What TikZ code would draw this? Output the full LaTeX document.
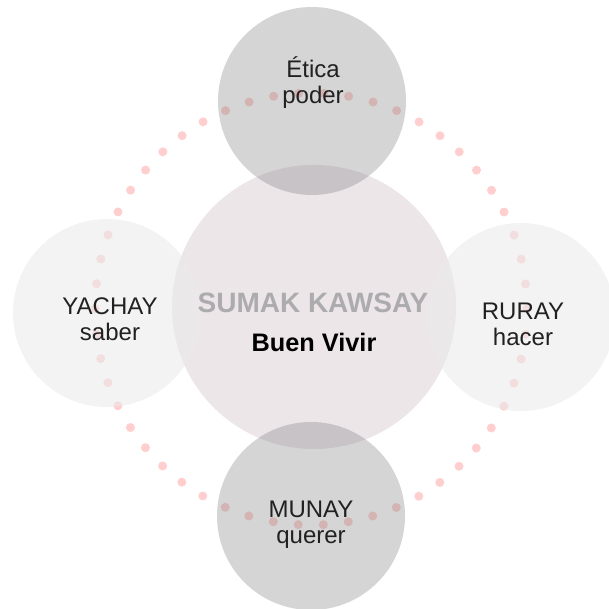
\documentclass[tikz,border=0pt]{standalone}
\usepackage{fontspec}
\setmainfont{Liberation Sans}
\definecolor{dotpink}{RGB}{255,206,206}
\definecolor{ringgray}{RGB}{126,126,126}
\definecolor{sidegray}{RGB}{234,234,234}
\definecolor{coremauve}{RGB}{225,213,219}
\definecolor{kawsaygray}{RGB}{172,172,175}
\tikzset{
  ring/.style={circle, fill=ringgray, fill opacity=0.33, minimum size=188pt, inner sep=0pt},
  side/.style={circle, fill=sidegray, fill opacity=0.58, minimum size=188pt, inner sep=0pt},
  lbl/.style={align=center, font=\fontsize{24}{26}\selectfont, text=black!87},
}
\begin{document}
\begin{tikzpicture}[x=1pt, y=1pt]
    \useasboundingbox (0, 0) rectangle (608, 609) ;
    \draw[dotpink, line width=9pt, line cap=round, dash pattern=on 0pt off 25.13pt] (311, 300) circle (216pt) ;
    \node[circle, fill=coremauve, fill opacity=0.6, minimum size=284pt, inner sep=0pt] (core) at (314, 302) {} ;
    \node[ring] (etica) at (312, 508) {} ;
    \node[ring] (munay) at (311, 93) {} ;
    \node[side] (yachay) at (107, 296) {} ;
    \node[side] (ruray) at (521, 292) {} ;
    \node[lbl] (eticaT) at (313, 526) {Ética\\poder} ;
    \node[lbl] (yachayT) at (110, 290) {YACHAY\\saber} ;
    \node[lbl] (rurayT) at (523, 285) {RURAY\\hacer} ;
    \node[lbl] (munayT) at (311, 84) {MUNAY\\querer} ;
    \node[anchor=base, text=kawsaygray, font=\fontsize{28}{32}\selectfont\bfseries] (sumak) at (313, 296) {SUMAK KAWSAY} ;
    \node[anchor=base, font=\fontsize{25.3}{29}\selectfont\bfseries] (buen) at (314, 257) {Buen Vivir} ;
\end{tikzpicture}
\end{document}
